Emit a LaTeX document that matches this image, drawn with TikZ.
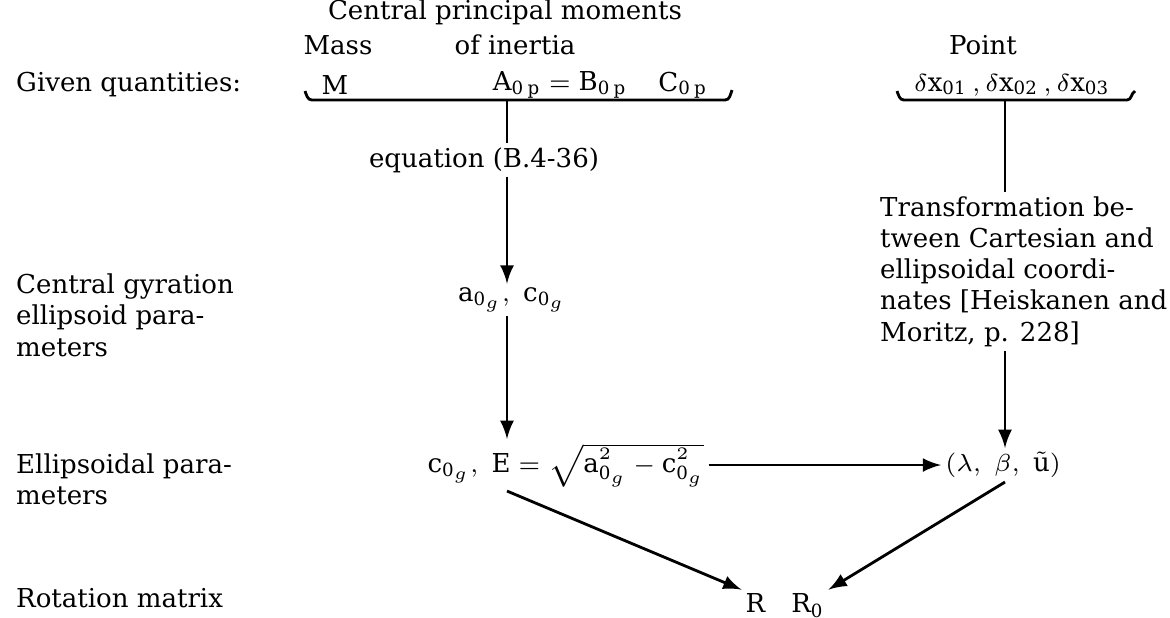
\documentclass[tikz,border=0pt]{standalone}
\usepackage{fontspec}
\setmainfont{DejaVu Serif}
\usetikzlibrary{positioning}
\begin{document}
\begin{tikzpicture}[x=0.01cm,y=-0.01cm,
    lbl/.style={inner sep=1pt,font=\fontsize{7.4}{8.9}\selectfont},
    row/.style={lbl,anchor=west,align=left},
    flow/.style={->,>=latex,line width=0.8pt},
    brace/.style={line width=0.8pt}]
\useasboundingbox (0,0) rectangle (1170,617);
% cabeceras y filas
\node[lbl] (title) at (505,12) {Central principal moments};
\node[lbl] (mass) at (338,45) {Mass};
\node[lbl] (inertia) at (515,45) {of inertia};
\node[lbl] (point) at (983,45) {Point};
\node[row] (given) at (12,85) {Given quantities:};
\node[row] (gyr) at (12,315) {Central gyration\\ellipsoid para-\\meters};
\node[row] (ellp) at (12,479) {Ellipsoidal para-\\meters};
\node[row] (rot) at (12,598) {Rotation matrix};
\node[lbl] (qM) at (335,85) {M};
\node[lbl] (qAB) at (560,85) {$\mathrm{A}_{\mathrm{0\,p}} = \mathrm{B}_{\mathrm{0\,p}}$};
\node[lbl] (qC) at (683,85) {$\mathrm{C}_{\mathrm{0\,p}}$};
\node[lbl] (qdx) at (1012,85) {$\delta\mathrm{x}_{\mathrm{01}}\,, \delta\mathrm{x}_{\mathrm{02}}\,, \delta\mathrm{x}_{\mathrm{03}}$};
\coordinate (t1) at (507,100);
\coordinate (t2) at (1005,100);
\draw[brace] (305,91) to[out=-70,in=180] (312,100) -- (725,100) to[out=0,in=-110] (732,90);
\draw[brace] (897,91) to[out=-70,in=180] (904,100) -- (1127,100) to[out=0,in=-150] (1135,91);
\node[lbl] (eqn) at (484,160) {equation (B.4-36)};
\node[lbl] (agc) at (512,300) {$\mathrm{a}_{\mathrm{0}_g},\ \mathrm{c}_{\mathrm{0}_g}$};
\node[lbl] (cE) at (566,465) {$\mathrm{c}_{\mathrm{0}_g},\ \mathrm{E} = \sqrt{\mathrm{a}_{\mathrm{0}_g}^2 - \mathrm{c}_{\mathrm{0}_g}^2}$};
\node[lbl] (lbu) at (1003,465) {$(\lambda,\ \beta,\ \tilde{\mathrm{u}})$};
\node[lbl,anchor=north west,align=left] (trans) at (876,192) {Transformation be-\\tween Cartesian and\\ellipsoidal coordi-\\nates [Heiskanen and\\Moritz, p. 228]};
\node[lbl] (rmat) at (785,606) {R\quad R$_{\mathrm{0}}$};
% flechas
\draw[brace] (t1) -- (t1 |- eqn.north);
\draw[flow] (t1 |- eqn.south) -- (t1 |- agc.north);
\draw[flow] (agc.south -| t1) -- (cE.north -| t1);
\draw[flow] (cE.east) -- (lbu.west);
\draw[brace] (t2) -- (trans.north -| t2);
\draw[flow] (trans.south -| t2) -- (lbu.north -| t2);
\draw[flow] (cE.south -| t1) -- (rmat.north west);
\draw[flow] (lbu.south -| t2) -- (rmat.north east);
\end{tikzpicture}
\end{document}
